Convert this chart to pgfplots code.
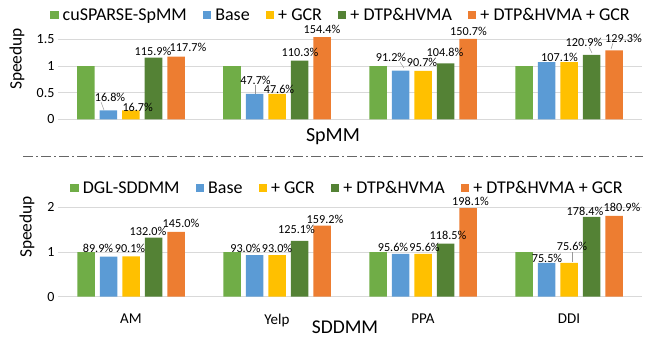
\documentclass[border=0pt]{standalone}
\usepackage{fontspec}
\setmainfont{Carlito}
\usepackage{pgfplots}
\pgfplotsset{compat=1.18}
\definecolor{cgreen}{RGB}{112,173,71}
\definecolor{cblue}{RGB}{91,155,213}
\definecolor{cyellow}{RGB}{255,192,0}
\definecolor{cdgreen}{RGB}{84,130,53}
\definecolor{corange}{RGB}{237,125,49}
\definecolor{cgrid}{RGB}{217,217,217}
\pgfplotsset{
  sqlegend/.style={legend image code/.code={\fill[##1] (0pt,-4.25pt) rectangle (8.5pt,4.25pt);}},
  mybar/.style={
    ybar, scale only axis, width=584pt,
    xmin=-0.5, xmax=3.5, ymin=0,
    axis x line*=bottom, axis y line*=left,
    y axis line style={draw=none},
    x axis line style={cgrid, line width=0.8pt, -},
    ymajorgrids, grid style={cgrid, line width=0.8pt},
    major tick length=0pt,
    xtick={0,1,2,3},
    tick label style={font=\fontsize{14}{16}\selectfont},
    /pgf/number format/assume math mode=true,
    bar width=17.5pt,
    legend columns=5,
    legend style={draw=none, fill=none, font=\fontsize{18}{20}\selectfont,
      /tikz/every even column/.append style={column sep=14pt},
      /tikz/every odd column/.append style={column sep=2pt}},
    ylabel={Speedup},
    clip=false,
  },
}
\tikzset{lab/.style={font=\fontsize{12.2}{14}\selectfont, inner sep=0pt}}
\begin{document}
\begin{tikzpicture}
\useasboundingbox (0pt,0pt) rectangle (667pt,-337pt);
% ---------------- SpMM ----------------
\begin{axis}[mybar, at={(58pt,-119.3pt)}, anchor=south west,
  height=90.6pt, ymax=1.7,
  ytick={0,0.5,1,1.5}, yticklabels={0,0.5,1,1.5},
  xticklabels={},
  every axis y label/.style={at={(axis description cs:-0.0702,0.666)}, anchor=center, rotate=90, font=\fontsize{17.4}{19}\selectfont},
  legend style={at={(axis description cs:0.4846,1.151)}, anchor=center},
]
\addplot[fill=cgreen, draw=none, bar shift=-45pt, sqlegend] coordinates {(0,1) (1,1) (2,1) (3,1)};
\addlegendentry{cuSPARSE-SpMM}
\addplot[fill=cblue, draw=none, bar shift=-22.5pt, sqlegend] coordinates {(0,0.168) (1,0.477) (2,0.912) (3,1.071)};
\addlegendentry{Base}
\addplot[fill=cyellow, draw=none, bar shift=0pt, sqlegend] coordinates {(0,0.167) (1,0.476) (2,0.907) (3,1.071)};
\addlegendentry{+ GCR}
\addplot[fill=cdgreen, draw=none, bar shift=22.5pt, sqlegend] coordinates {(0,1.159) (1,1.103) (2,1.048) (3,1.209)};
\addlegendentry{+ DTP\&HVMA}
\addplot[fill=corange, draw=none, bar shift=45pt, sqlegend] coordinates {(0,1.177) (1,1.544) (2,1.507) (3,1.293)};
\addlegendentry{+ DTP\&HVMA + GCR}
\end{axis}
% ---------------- SDDMM ----------------
\begin{axis}[mybar, at={(58pt,-296.7pt)}, anchor=south west,
  height=96.1pt, ymax=2.15,
  ytick={0,1,2},
  xticklabels={AM,Yelp,PPA,DDI},
  xticklabel style={font=\fontsize{15}{17}\selectfont, yshift=-14pt},
  every axis y label/.style={at={(axis description cs:-0.053,0.725)}, anchor=center, rotate=90, font=\fontsize{17.4}{19}\selectfont},
  legend style={at={(axis description cs:0.4957,1.131)}, anchor=center},
]
\addplot[fill=cgreen, draw=none, bar shift=-45pt, sqlegend] coordinates {(0,1) (1,1) (2,1) (3,1)};
\addlegendentry{DGL-SDDMM}
\addplot[fill=cblue, draw=none, bar shift=-22.5pt, sqlegend] coordinates {(0,0.899) (1,0.930) (2,0.956) (3,0.755)};
\addlegendentry{Base}
\addplot[fill=cyellow, draw=none, bar shift=0pt, sqlegend] coordinates {(0,0.901) (1,0.930) (2,0.956) (3,0.756)};
\addlegendentry{+ GCR}
\addplot[fill=cdgreen, draw=none, bar shift=22.5pt, sqlegend] coordinates {(0,1.320) (1,1.251) (2,1.185) (3,1.784)};
\addlegendentry{+ DTP\&HVMA}
\addplot[fill=corange, draw=none, bar shift=45pt, sqlegend] coordinates {(0,1.450) (1,1.592) (2,1.981) (3,1.809)};
\addlegendentry{+ DTP\&HVMA + GCR}
\end{axis}
\begin{scope}[x=1pt,y=1pt]
% titles and separator
\node[font=\fontsize{20}{22}\selectfont, inner sep=0pt] at (333,-137) {SpMM};
\node[font=\fontsize{19.5}{22}\selectfont, inner sep=0pt] at (345,-327) {SDDMM};
\draw[black!60, line width=0.9pt, dash pattern=on 10pt off 3pt on 2pt off 3pt] (23,-156) -- (643,-156);
% data labels SpMM
\node[lab] at (110,-97) {16.8\%};
\node[lab] at (137.7,-107.5) {16.7\%};
\node[lab] at (153,-51) {115.9\%};
\node[lab] at (188,-47) {117.7\%};
\node[lab] at (255.5,-80) {47.7\%};
\node[lab] at (279,-89) {47.6\%};
\node[lab] at (300,-52) {110.3\%};
\node[lab] at (322,-29) {154.4\%};
\node[lab] at (391,-57) {91.2\%};
\node[lab] at (422,-62.5) {90.7\%};
\node[lab] at (445,-52) {104.8\%};
\node[lab] at (468.5,-31.5) {150.7\%};
\node[lab] at (559.5,-57.5) {107.1\%};
\node[lab] at (584,-42.5) {120.9\%};
\node[lab] at (623.5,-38.5) {129.3\%};
% data labels SDDMM
\node[lab] at (98,-248.5) {89.9\%};
\node[lab] at (130,-248.5) {90.1\%};
\node[lab] at (148,-231.5) {132.0\%};
\node[lab] at (181,-223.5) {145.0\%};
\node[lab] at (245.5,-248.5) {93.0\%};
\node[lab] at (277,-248.5) {93.0\%};
\node[lab] at (296.5,-229) {125.1\%};
\node[lab] at (325,-219) {159.2\%};
\node[lab] at (393,-247.5) {95.6\%};
\node[lab] at (424.5,-247.5) {95.6\%};
\node[lab] at (448,-235) {118.5\%};
\node[lab] at (470.5,-201.5) {198.1\%};
\node[lab] at (547,-258) {75.5\%};
\node[lab] at (572,-246.5) {75.6\%};
\node[lab] at (585,-211.5) {178.4\%};
\node[lab] at (622,-207.5) {180.9\%};
% leader lines
\draw[black!40, line width=0.5pt] (101,-102) -- (104,-110);
\draw[black!40, line width=0.5pt] (255,-85) -- (255,-94);
\draw[black!40, line width=0.5pt] (400,-62) -- (404,-68);
\draw[black!40, line width=0.5pt] (589,-47) -- (592,-53);
\draw[black!40, line width=0.5pt] (613,-43) -- (611,-49);
\draw[black!40, line width=0.5pt] (572,-252) -- (572,-262);
\end{scope}
\end{tikzpicture}
\end{document}
